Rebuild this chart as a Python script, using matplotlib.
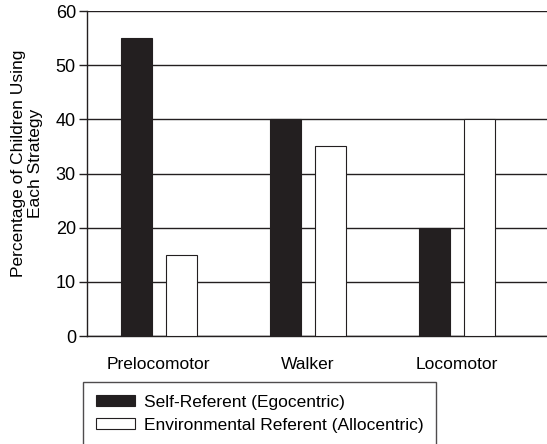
import numpy as np
import matplotlib
matplotlib.use('Agg')
import matplotlib.pyplot as plt

plt.rcParams['font.family'] = ['Liberation Sans', 'DejaVu Sans']

groups = ['Prelocomotor', 'Walker', 'Locomotor']
self_referent = [55, 40, 20]
environmental = [15, 35, 40]
series_labels = ['Self-Referent (Egocentric)', 'Environmental Referent (Allocentric)']

fig = plt.figure(figsize=(5.47, 4.44), dpi=100)
ax = fig.add_axes([87 / 547, 108 / 444, 1 - 87 / 547, 325 / 444])

index = np.arange(len(groups))
bar_width = 0.208
offset = 0.151

ax.bar(index - offset, self_referent, bar_width, color='#231f20',
       edgecolor='#231f20', linewidth=0.8, label=series_labels[0], zorder=3)
ax.bar(index + offset, environmental, bar_width, color='white',
       edgecolor='#231f20', linewidth=0.8, label=series_labels[1], zorder=3)

ax.set_xlim(-0.48, 2.607)
ax.set_ylim(0, 60)
ax.set_yticks(range(0, 61, 10))
ax.yaxis.grid(True, color='#231f20', linewidth=1.0, zorder=0)
ax.set_axisbelow(True)

ax.set_xticks(index)
ax.set_xticklabels(groups, fontsize=12.5)
ax.tick_params(axis='x', length=0, pad=15)
ax.tick_params(axis='y', length=6, width=1, labelsize=13, pad=2, color='#231f20')

for side in ['top', 'right']:
    ax.spines[side].set_visible(False)
for side in ['left', 'bottom']:
    ax.spines[side].set_color('#231f20')
    ax.spines[side].set_linewidth(1.0)

ax.set_ylabel('Percentage of Children Using\nEach Strategy', fontsize=12.5,
              linespacing=1.15)
ax.yaxis.set_label_coords(-0.096, 0.53)

leg = fig.legend(loc='upper left', bbox_to_anchor=(83 / 547, 1 - 382 / 444),
                 fontsize=12.5, frameon=True, fancybox=False, handlelength=2.25,
                 handleheight=0.6, handletextpad=0.5, borderpad=0.75,
                 borderaxespad=0, labelspacing=0.45)
leg.get_frame().set_edgecolor('#231f20')
leg.get_frame().set_linewidth(1.0)

fig.savefig('out.png', dpi=100)
